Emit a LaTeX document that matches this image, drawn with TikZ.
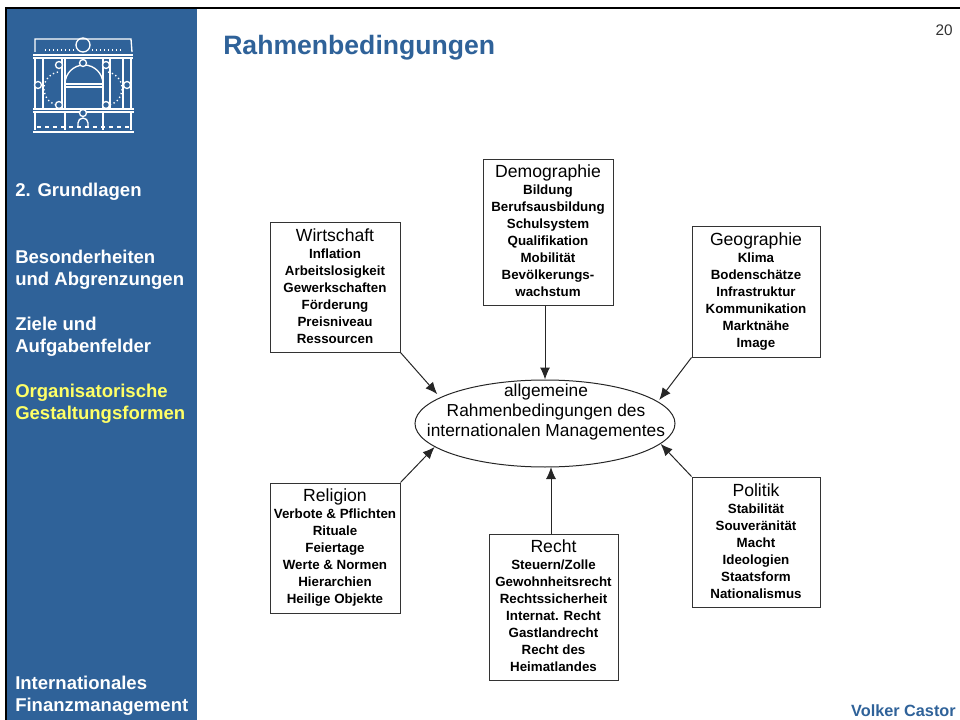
\documentclass[tikz,border=0pt]{standalone}
\usepackage{fontspec}
\setmainfont{Liberation Sans}
\usepackage{tikz}
\usepackage{xcolor}
\usetikzlibrary{arrows.meta,shapes.geometric}

\definecolor{folienblau}{HTML}{2F6299}
\definecolor{folienblass}{HTML}{FFFF66}

\newcommand{\kopf}[1]{{\fontsize{13.2}{12.75}\selectfont #1}}

\tikzset{
  infobox/.style={draw=black!80, line width=.75pt, minimum width=130*.75pt, inner sep=0pt, align=center,
    font=\fontsize{10}{12.75}\selectfont\bfseries},
  tief/.style={execute at end node={\rule[-#1]{0pt}{#1}}},
  seite/.style={anchor=west, inner sep=0pt, align=left, text=white,
    font=\fontsize{13.9}{16.5}\selectfont\bfseries},
  pfeil/.style={-{Latex[length=9pt,width=7.5pt]}, line width=.75pt, black!85},
  logo/.style={draw=white, line width=1pt}
}

\begin{document}
\begin{tikzpicture}[x=.75pt,y=-.75pt]
  \useasboundingbox (0,0) rectangle (960,720);

  % sidebar and frame
  \fill[folienblau] (7,9) rectangle (197,720);
  \fill[black] (5,7) rectangle (960,9);
  \fill[black] (5,7) rectangle (7,720);

  % building in the sidebar
  \begin{scope}[logo]
    \draw[logo] (35,52) -- (35,39) -- (131,39) -- (132,52);
    \draw[logo] (83,45) circle (7);
    \draw[logo] (33,55) -- (133,55);
    \draw[logo] (33,58) -- (133,58);
    \draw[logo,dotted] (45,50) -- (75,50);
    \draw[logo,dotted] (92,50) -- (122,50);
    \foreach \x in {35,43,62,65,103,110,123,131} {
      \draw[logo] (\x,58) -- (\x,109);
    }
    \draw[logo] (33,109) -- (134,109);
    \draw[logo] (33,112) -- (134,112);
    \foreach \x in {35,65,103,131} {
      \draw[logo] (\x,112) -- (\x,130);
    }
    \draw[logo] (33,132) -- (134,132);
    \draw[logo,dashed] (37,127) -- (129,127);
    \draw[logo] (65,84) arc (180:360:19);
    \draw[logo] (64,84) -- (102,84);
    \draw[logo] (64,87) -- (102,87);
    \foreach \x/\y in {59/65,106/65,59/105,106/105,38/85,127/85,83/63,83/113} {
      \draw[logo,fill=folienblau] (\x,\y) circle (3.5);
    }
    \draw[logo] (78,128) -- (78,123) arc (180:360:5) -- (88,128);
    \draw[logo,dotted] (58,72) arc (260:100:17);
    \draw[logo,dotted] (108,72) arc (-80:80:17);
  \end{scope}

  % texts of the sidebar
  \node[seite] (grundlagen) at (15,192) {2. Grundlagen};
  \node[seite] (besonderheiten) at (15,270) {Besonderheiten\\und Abgrenzungen};
  \node[seite] (ziele) at (15,337) {Ziele und\\Aufgabenfelder};
  \node[seite,text=folienblass] (formen) at (15,404) {Organisatorische\\Gestaltungsformen};
  \node[seite] (finanz) at (15,696) {Internationales\\Finanzmanagement};

  \node[anchor=west,inner sep=0pt,text=folienblau,font=\fontsize{19.95}{22}\selectfont\bfseries] (titel) at (223,48) {Rahmenbedingungen};
  \node[anchor=east,inner sep=0pt,font=\fontsize{11.5}{14}\selectfont,text=black!80] (nummer) at (953,30) {20};
  \node[anchor=east,inner sep=0pt,text=folienblau,font=\fontsize{12.2}{14}\selectfont\bfseries] (autor) at (956,711) {Volker Castor};

  % the six boxes
  \node[infobox,tief=3pt,minimum height=146*.75pt] (demographie) at (548,233)
    {\kopf{\mdseries Demographie}\\Bildung\\Berufsausbildung\\Schulsystem\\Qualifikation\\Mobilität\\Bevölkerungs-\\wachstum};
  \node[infobox,tief=2.5pt,minimum height=129*.75pt] (wirtschaft) at (335,287.5)
    {\kopf{\mdseries Wirtschaft}\\Inflation\\Arbeitslosigkeit\\Gewerkschaften\\Förderung\\Preisniveau\\Ressourcen};
  \node[infobox,minimum height=130*.75pt,minimum width=128*.75pt] (geographie) at (756,292)
    {\kopf{\mdseries Geographie}\\Klima\\Bodenschätze\\Infrastruktur\\Kommunikation\\Marktnähe\\Image};
  \node[infobox,tief=3.5pt,minimum height=130*.75pt] (religion) at (335,548)
    {\kopf{\mdseries Religion}\\Verbote \& Pflichten\\Rituale\\Feiertage\\Werte \& Normen\\Hierarchien\\Heilige Objekte};
  \node[infobox,tief=1.5pt,minimum height=146*.75pt,minimum width=129*.75pt] (recht) at (553.5,607)
    {\kopf{\mdseries Recht}\\Steuern/Zolle\\Gewohnheitsrecht\\Rechtssicherheit\\Internat. Recht\\Gastlandrecht\\Recht des\\Heimatlandes};
  \node[infobox,tief=1pt,minimum height=130*.75pt,minimum width=128*.75pt] (politik) at (756,542)
    {\kopf{\mdseries Politik}\\Stabilität\\Souveränität\\Macht\\Ideologien\\Staatsform\\Nationalismus};

  % ellipse, its text is wider than the shape allows
  \node[draw=black!85,line width=.75pt,ellipse,minimum width=260*.75pt,minimum height=87*.75pt,inner sep=0pt] (rahmen) at (545,423.5) {};
  \node[align=center,inner sep=0pt,font=\fontsize{13}{15}\selectfont] (rahmentext) at (546,412)
    {allgemeine\\Rahmenbedingungen des\\internationalen Managementes};

  \coordinate (rechtfuss) at (551,534);
  \coordinate (rechtziel) at (551,467);

  \draw[pfeil] (demographie.south -| rahmen.north) -- (rahmen.north);
  \draw[pfeil] (rechtfuss) -- (rechtziel);
  \draw[pfeil,shorten >=3.2pt] (wirtschaft.south east) -- (rahmen.166);
  \draw[pfeil,shorten >=1.5pt] (geographie.south west) -- (rahmen.11);
  \draw[pfeil] (religion.north east) -- (rahmen.192.6);
  \draw[pfeil] (politik.north west) -- (rahmen.-10.4);
\end{tikzpicture}
\end{document}
